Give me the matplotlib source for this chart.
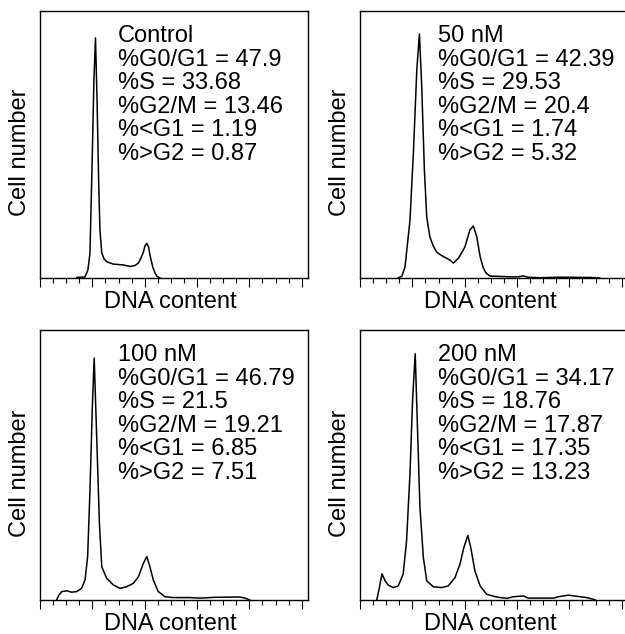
import matplotlib
matplotlib.use("Agg")
import matplotlib.pyplot as plt
from matplotlib.ticker import MultipleLocator

plt.rcParams['font.family'] = ['Liberation Sans', 'DejaVu Sans']

# ---- data (DNA content channel vs relative cell number) ----
control_x = [140, 172, 183, 191, 200, 206, 212, 218, 224, 229, 236, 245, 255, 280, 318,
             344, 363, 376, 386, 395, 401, 408, 415, 420, 431, 439, 447, 459]
control_y = [0.2, 0.4, 3.0, 9.4, 46.8, 74, 89.9, 66.7, 36.7, 18, 9.4, 7.1, 6.1, 5.2, 4.9,
             4.3, 4.7, 5.6, 7.5, 9.7, 12, 13, 11.6, 8.6, 4.1, 1.9, 0.6, 0]

nm50_x = [146, 160, 172, 191, 204, 217, 227, 236, 246, 255, 267, 280, 293, 310, 325, 344, 357, 376,
          390, 401, 413, 420, 433, 446, 459, 470, 481, 497, 535, 573, 604, 623, 642, 688,
          764, 879, 917]
nm50_y = [0, 0.7, 4.1, 21.7, 46.8, 77.9, 91.4, 71.5, 40.4, 22.8, 15.4, 12.0, 9.7, 8.5, 7.7, 6.7, 5.6, 7.4,
          9.7, 11.7, 15.7, 18, 19.5, 15.5, 8.0, 4.1, 1.9, 0.7, 0.6, 0.45, 0.4, 0.8, 0.3, 0.1,
          0.3, 0.2, 0]

nm100_x = [64, 73, 83, 102, 121, 140, 159, 172, 182, 191, 200, 207, 217, 227, 236, 255, 280,
           306, 331, 357, 376, 395, 408, 420, 433, 452, 478, 509, 573, 611, 669, 764, 783, 802]
nm100_y = [0.2, 1.9, 3.1, 3.4, 2.9, 3.1, 4.3, 7.4, 16, 40.7, 71.6, 89.6, 59.3, 28.4, 12.3, 8.0, 5.6,
           4.3, 4.9, 6.2, 8.6, 13.6, 16.1, 12.3, 7.4, 3.1, 1.2, 0.9, 0.9, 0.7, 1.0, 1.1, 0.7, 0]

nm200_x = [64, 74, 84, 96, 108, 127, 146, 165, 178, 191, 201, 211, 219, 229, 242, 255, 280, 312,
           337, 363, 382, 397, 412, 423, 439, 459, 484, 522, 561, 586, 624, 643, 739, 758, 796,
           841, 866, 898]
nm200_y = [0, 4.6, 9.7, 7.1, 5.5, 4.6, 5.2, 9.6, 22, 46.9, 74.3, 91.2, 65.6, 34.4, 15.8, 7.1, 4.9,
           4.6, 5.2, 8.3, 13.3, 19.5, 23.9, 19.5, 10.8, 5.2, 2.1, 1.1, 0.6, 1.2, 1.5, 0.7, 0.7, 1.2,
           1.8, 1.2, 0.9, 0.1]

titles = ["Control", "50 nM", "100 nM", "200 nM"]
pct_g0g1 = ["47.9", "42.39", "46.79", "34.17"]
pct_s = ["33.68", "29.53", "21.5", "18.76"]
pct_g2m = ["13.46", "20.4", "19.21", "17.87"]
pct_subg1 = ["1.19", "1.74", "6.85", "17.35"]
pct_supg2 = ["0.87", "5.32", "7.51", "13.23"]

xs = [control_x, nm50_x, nm100_x, nm200_x]
ys = [control_y, nm50_y, nm100_y, nm200_y]

W, H = 625, 634
fig = plt.figure(figsize=(W / 100, H / 100), dpi=100)

# axes boxes in pixels: (left, top, right, bottom)
boxes = [(40, 11, 308, 278), (360, 11, 628, 278), (40, 330, 308, 600), (360, 330, 628, 600)]

FS = 17
for i, (l, t, r, b) in enumerate(boxes):
    ax = fig.add_axes([l / W, 1 - b / H, (r - l) / W, (b - t) / H])
    ax.plot(xs[i], ys[i], color='black', lw=1.1, solid_joinstyle='round')
    ax.set_xlim(0, 1024)
    ax.set_ylim(0, 100)
    ax.xaxis.set_major_locator(MultipleLocator(200))
    ax.xaxis.set_minor_locator(MultipleLocator(50))
    ax.tick_params(axis='x', which='major', direction='out', length=6.5, width=0.8,
                   labelbottom=False, top=False)
    ax.tick_params(axis='x', which='minor', direction='out', length=3.6, width=0.8, top=False)
    ax.tick_params(axis='y', left=False, labelleft=False, right=False)
    for sp in ax.spines.values():
        sp.set_linewidth(1.0)
    hpx = b - t
    wpx = r - l
    lines = [titles[i],
             "%G0/G1 = " + pct_g0g1[i],
             "%S = " + pct_s[i],
             "%G2/M = " + pct_g2m[i],
             "%<G1 = " + pct_subg1[i],
             "%>G2 = " + pct_supg2[i]]
    x0 = (118 - 40) / wpx
    for k, s in enumerate(lines):
        yb = 1 - (31 + 23.6 * k) / hpx
        ax.text(x0, yb, s, transform=ax.transAxes, fontsize=FS, ha='left', va='baseline')
    ax.text(0.488, -30 / hpx, "DNA content", transform=ax.transAxes, fontsize=FS,
            ha='center', va='baseline')
    ax.text(-9 / wpx, 0.47, "Cell number", transform=ax.transAxes, fontsize=FS,
            ha='right', va='center', rotation=90)

fig.savefig("out.png", dpi=100)
